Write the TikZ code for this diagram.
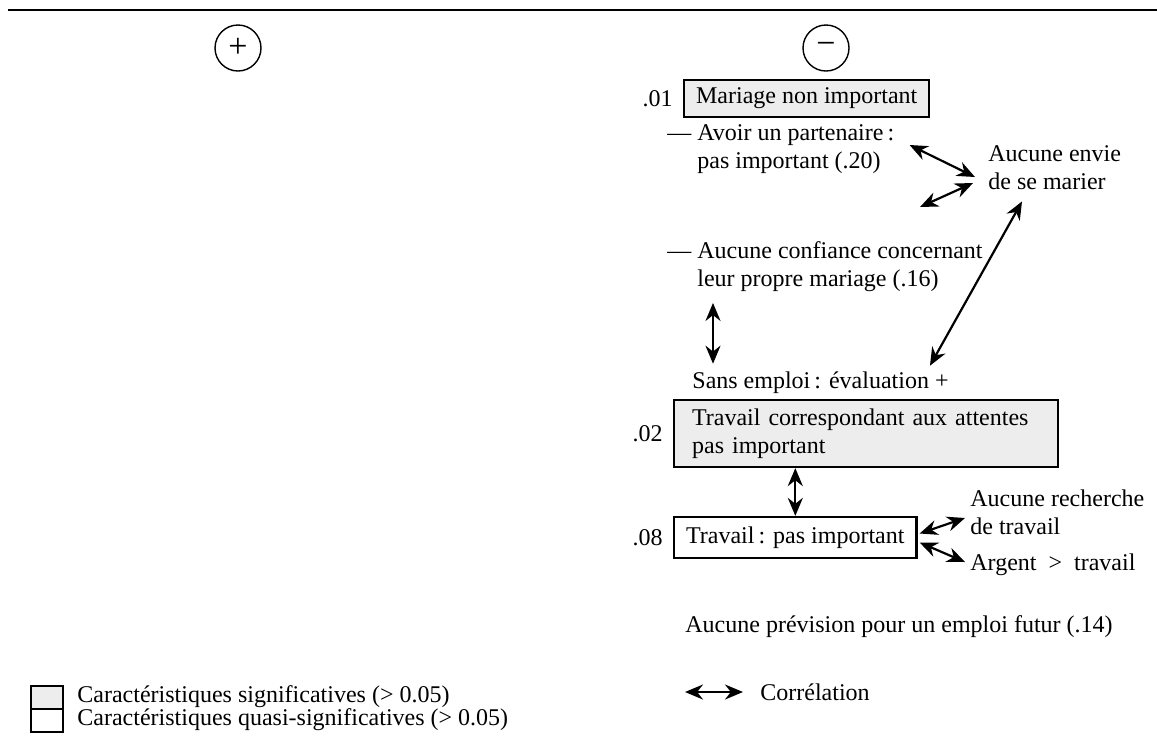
\documentclass[tikz,border=0pt]{standalone}
\usepackage{fontspec}
\setmainfont{Liberation Serif}
\usetikzlibrary{arrows.meta,positioning}
\tikzstyle{sig}=[rectangle, draw=black, line width=1.1pt, fill=black!7, anchor=west, align=left, inner xsep=6pt, inner ysep=4pt]
\tikzstyle{qsig}=[sig, fill=white]
\tikzstyle{annot}=[anchor=west, align=left, inner sep=0pt]
\tikzstyle{corr}=[{Stealth[length=9pt,width=7.5pt]}-{Stealth[length=9pt,width=7.5pt]}, line width=1.1pt]
\tikzstyle{sign}=[circle, draw, line width=0.7pt, minimum size=23pt, inner sep=0pt, font=\fontsize{17}{17}\selectfont]

\begin{document}
\begin{tikzpicture}[x=0.5pt, y=-0.5pt, font=\fontsize{12}{14}\selectfont]
	\useasboundingbox (0,0) rectangle (1157,736);
	\draw[line width=1pt] (8,10) -- (1157,10);

	\node[sign] (plus) at (238,48) {+};
	\node[sign] (minus) at (826,48) {−};

	\node[sig, minimum height=18.5pt] (mariage) at (683,98.5) {Mariage non important};
	\node[annot, left=5pt of mariage] (p01) {.01};

	\node[annot] (avoir) at (697,149) {\llap{— }Avoir un partenaire\,:\\pas important (.20)};
	\node[annot] (envie) at (988,168) {Aucune envie\\de se marier};
	\node[annot] (conf) at (697,266.5) {\llap{— }Aucune confiance concernant\\leur propre mariage (.16)};
	\node[annot] (sans) at (692,383) {Sans emploi\,: évaluation +};

	\node[sig, text width=174pt, inner xsep=9pt, minimum height=33.5pt] (attentes) at (673,433.5) {Travail correspondant aux attentes\\pas important};
	\node[annot, left=5pt of attentes] (p02) {.02};
	\node[qsig, minimum height=20.5pt] (travail) at (673,537.5) {Travail\,: pas important};
	\node[annot, left=5pt of travail] (p08) {.08};

	\node[annot] (rech) at (970,512) {Aucune recherche\\de travail};
	\node[annot] (argent) at (970,565) {Argent \ > \ travail};
	\node[annot] (prev) at (685,627) {Aucune prévision pour un emploi futur (.14)};

	% correlations
	\draw[corr] ([shift={(15,-4)}]avoir.east) -- ([shift={(-13,9)}]envie.west);
	\draw[corr] ([shift={(-68,39)}]envie.west) -- ([shift={(-15,15)}]envie.west);
	\draw[corr] ([shift={(34,11)}]envie.south west) -- ([shift={(-19,-6)}]sans.north east);
	\draw[corr] ([shift={(16,11)}]conf.south west) -- ([shift={(16,-8)}]conf.south west |- sans.north);
	\draw[corr] (attentes.south -| travail.north) -- (travail.north);
	\draw[corr] ([shift={(2,-4)}]travail.east) -- ([shift={(-5,6)}]rech.west);
	\draw[corr] ([shift={(2,5)}]travail.east) -- ([shift={(-5,-3)}]argent.west);

	% legend
	\node[sig, minimum width=16pt, minimum height=11.5pt, inner sep=0pt] (lsig) at (30,697.5) {};
	\node[qsig, minimum width=16pt, minimum height=11.5pt, inner sep=0pt] (lqsig) at (30,720.5) {};
	\node[annot] (tsig) at (77,697) {Caractéristiques significatives (> 0.05)};
	\node[annot] (tqsig) at (77,720) {Caractéristiques quasi-significatives (> 0.05)};
	\node[annot] (lcorr) at (760,692) {Corrélation};
	\draw[corr] ([xshift=-37.5pt]lcorr.west) -- ([xshift=-8.5pt]lcorr.west);
\end{tikzpicture}
\end{document}
